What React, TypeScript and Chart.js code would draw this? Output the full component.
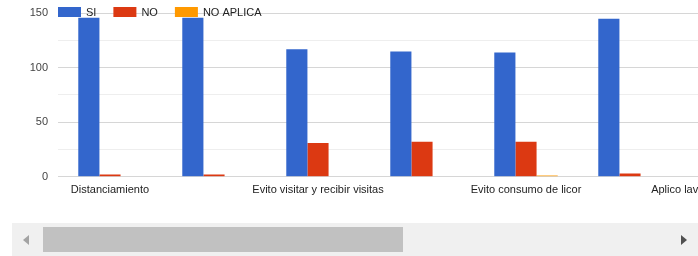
import React, { useEffect, useRef } from "react";
import { Chart, registerables } from "chart.js";

Chart.register(...registerables);

// ---- data ----
const categories = [
  "Distanciamiento",
  "Uso de tapabocas",
  "Evito visitar y recibir visitas",
  "Evito salir de casa",
  "Evito consumo de licor",
  "Evito reuniones",
  "Aplico lavado de manos frecuente",
];
const siValues = [146, 146, 117, 115, 114, 145, 140];
const noValues = [2, 2, 31, 32, 32, 3, 4];
const noAplicaValues = [0, 0, 0, 0, 1, 0, 0];
const seriesNames = ["SI", "NO", "NO APLICA"];
const seriesColors = ["#3366cc", "#dc3912", "#ff9900"];
const yMin = 0;
const yMax = 150;
const yStep = 25;
const yLabelStep = 50;

const FONT = "'Liberation Sans', Arial, sans-serif";
const CANVAS_W = 846;
const CANVAS_H = 215;

const topLegend = {
  id: "topLegend",
  afterDraw(chart: any) {
    const ctx = chart.ctx;
    ctx.save();
    ctx.font = `11px ${FONT}`;
    ctx.textBaseline = "middle";
    ctx.textAlign = "left";
    let x = chart.chartArea.left;
    const y = 7;
    chart.data.datasets.forEach((ds: any) => {
      ctx.fillStyle = ds.backgroundColor;
      ctx.fillRect(x, y, 23, 10);
      ctx.fillStyle = "#222";
      ctx.fillText(ds.label, x + 28, y + 5.5);
      x += 28 + ctx.measureText(ds.label).width + 17;
    });
    ctx.restore();
  },
};

function BarChart() {
  const ref = useRef<HTMLCanvasElement | null>(null);
  useEffect(() => {
    if (!ref.current) return;
    const values = [siValues, noValues, noAplicaValues];
    const chart = new Chart(ref.current, {
      type: "bar",
      data: {
        labels: categories,
        datasets: values.map((v, i) => ({
          label: seriesNames[i],
          data: v,
          backgroundColor: seriesColors[i],
          borderWidth: 0,
          categoryPercentage: 0.61,
          barPercentage: 1,
        })),
      },
      options: {
        responsive: false,
        animation: false,
        layout: { padding: { top: 13.3, left: 0, right: 60, bottom: 0 } },
        plugins: {
          legend: { display: false },
          tooltip: { enabled: false },
        },
        scales: {
          x: {
            grid: { display: false, drawTicks: false },
            border: { display: false },
            ticks: {
              autoSkip: false,
              maxRotation: 0,
              minRotation: 0,
              padding: 7,
              color: "#222",
              font: { family: FONT, size: 11 },
              callback: (_v: any, i: number) => (i % 2 === 0 ? categories[i] : ""),
            },
            afterFit: (scale: any) => {
              scale.height = CANVAS_H - 176.7;
              scale.paddingLeft = 0;
              scale.paddingRight = 0;
            },
          },
          y: {
            min: yMin,
            max: yMax,
            border: { display: false },
            grid: {
              drawTicks: false,
              color: (c: any) =>
                c.tick && c.tick.value % yLabelStep === 0 ? "#d6d6d6" : "#eeeeee",
            },
            ticks: {
              stepSize: yStep,
              padding: 10,
              color: "#444",
              font: { family: FONT, size: 11 },
              callback: (v: any) => (Number(v) % yLabelStep === 0 ? String(v) : ""),
            },
            afterFit: (scale: any) => {
              scale.width = 58;
              scale.paddingTop = 0;
              scale.paddingBottom = 0;
            },
          },
        },
      },
      plugins: [topLegend],
    });
    return () => chart.destroy();
  }, []);
  return <canvas ref={ref} width={CANVAS_W} height={CANVAS_H} style={{ display: "block" }} />;
}

export default function App() {
  return (
    <div
      style={{
        position: "fixed",
        left: 0,
        top: 0,
        width: 698,
        height: 256,
        overflow: "hidden",
        background: "#fff",
      }}
    >
      <div style={{ position: "absolute", left: 0, top: 0, width: 698, height: CANVAS_H, overflow: "hidden" }}>
        <BarChart />
      </div>
      {/* horizontal scrollbar of the scrolling chart container */}
      <div style={{ position: "absolute", left: 12, top: 223, width: 700, height: 33, background: "#f0f0f0" }} />
      <div
        style={{
          position: "absolute",
          left: 43,
          top: 227,
          width: 360,
          height: 25,
          background: "#c1c1c1",
        }}
      />
      <div
        style={{
          position: "absolute",
          left: 23,
          top: 235,
          width: 0,
          height: 0,
          borderTop: "5px solid transparent",
          borderBottom: "5px solid transparent",
          borderRight: "6px solid #a3a3a3",
        }}
      />
      <div
        style={{
          position: "absolute",
          left: 681,
          top: 235,
          width: 0,
          height: 0,
          borderTop: "5px solid transparent",
          borderBottom: "5px solid transparent",
          borderLeft: "6px solid #505050",
        }}
      />
    </div>
  );
}
